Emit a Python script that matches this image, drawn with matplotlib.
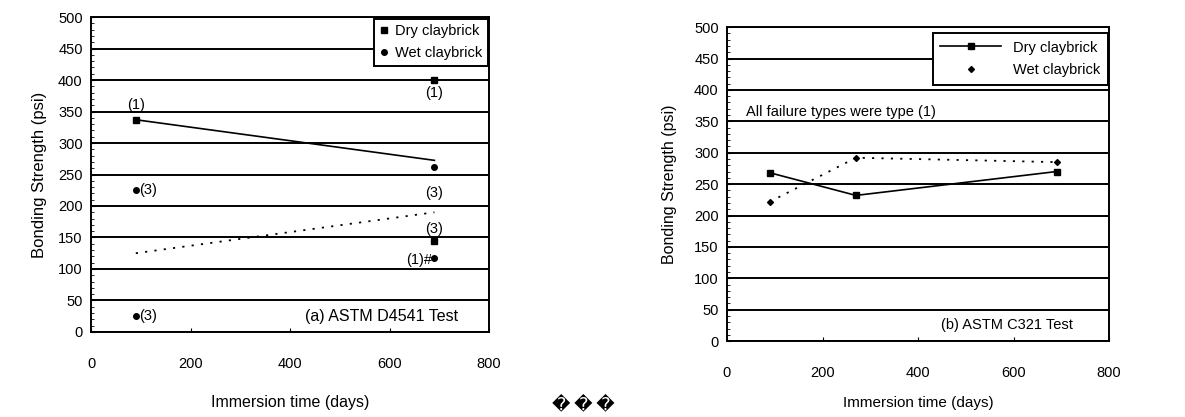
import matplotlib
matplotlib.use("Agg")
import matplotlib.pyplot as plt
import numpy as np
from matplotlib.ticker import MultipleLocator

plt.rcParams.update({
    "font.family": ["Liberation Sans", "DejaVu Sans"],
    "font.size": 10,
    "axes.linewidth": 1.4,
})

# ---- (a) ASTM D4541 test: individual specimens ----
a_dry_days = [90, 690, 690]
a_dry_psi = [337, 400, 145]
a_dry_fail = ["(1)", "(1)", "(3)"]
a_wet_days = [90, 90, 690, 690]
a_wet_psi = [225, 25, 262, 118]
a_wet_fail = ["(3)", "(3)", "(3)", "(1)#"]

# ---- (b) ASTM C321 test: means ----
b_days = [90, 270, 690]
b_dry_psi = [268, 232, 270]
b_wet_psi = [222, 292, 285]

SPARSE_DOT = (0, (1.2, 4))

fig = plt.figure(figsize=(11.85, 4.17), dpi=100)


def base_axes(rect, xlab_y, xlab_fs):
    ax = fig.add_axes(rect)
    ax.set_xlim(0, 800)
    ax.set_ylim(0, 500)
    ax.xaxis.set_major_locator(MultipleLocator(200))
    ax.yaxis.set_major_locator(MultipleLocator(50))
    ax.yaxis.set_minor_locator(MultipleLocator(10))
    ax.yaxis.grid(True, color="black", linewidth=1.4)
    ax.tick_params(axis="x", direction="in", length=3, pad=18, labelsize=10.5)
    ax.tick_params(axis="y", which="major", direction="in", length=3, pad=6, labelsize=10.5)
    ax.tick_params(axis="y", which="minor", direction="in", length=2)
    ax.set_xlabel("Immersion time (days)", fontsize=xlab_fs)
    ax.xaxis.set_label_coords(0.5, xlab_y)
    return ax


# ===== panel (a) =====
ax = base_axes([0.0768, 0.204, 0.336, 0.755], -0.2, 11.5)
ax.set_ylabel("Bonding Strength (psi)", fontsize=12, labelpad=8)
ax.plot(a_dry_days, a_dry_psi, "s", color="black", ms=5, label="Dry claybrick", zorder=5)
ax.plot(a_wet_days, a_wet_psi, "o", color="black", ms=4, label="Wet claybrick", zorder=5)

# linear trend lines through each group
xs = np.array([90, 690])
p = np.polyfit(a_dry_days, a_dry_psi, 1)
ax.plot(xs, np.polyval(p, xs), "-", color="black", lw=1.2)
p = np.polyfit(a_wet_days, a_wet_psi, 1)
ax.plot(xs, np.polyval(p, xs), linestyle=SPARSE_DOT, color="black", lw=1.3)

fs = 10.5
ax.text(90, a_dry_psi[0] + 12, a_dry_fail[0], ha="center", va="bottom", fontsize=fs)
ax.text(690, a_dry_psi[1] - 10, a_dry_fail[1], ha="center", va="top", fontsize=fs)
ax.text(690, a_dry_psi[2] + 8, a_dry_fail[2], ha="center", va="bottom", fontsize=fs)
ax.text(96, a_wet_psi[0], a_wet_fail[0], ha="left", va="center", fontsize=fs)
ax.text(96, a_wet_psi[1], a_wet_fail[1], ha="left", va="center", fontsize=fs)
ax.text(690, a_wet_psi[2] - 30, a_wet_fail[2], ha="center", va="top", fontsize=fs)
ax.text(686, a_wet_psi[3] - 3, a_wet_fail[3], ha="right", va="center", fontsize=fs)
ax.text(738, 25, "(a) ASTM D4541 Test", ha="right", va="center", fontsize=11.5)

leg = ax.legend(loc="upper right", bbox_to_anchor=(1.0, 1.0), fancybox=False,
                edgecolor="black", framealpha=1, fontsize=10.5, handlelength=0.6,
                handletextpad=0.4, borderpad=0.4, labelspacing=0.5,
                borderaxespad=0.1)
leg.get_frame().set_linewidth(1.4)

# ===== panel (b) =====
bx = base_axes([0.6135, 0.182, 0.3224, 0.753], -0.175, 11)
bx.set_ylabel("Bonding Strength (psi)", fontsize=11.5, labelpad=12)
bx.plot(b_days, b_dry_psi, "-s", color="black", lw=1.2, ms=5, label="Dry claybrick", zorder=5)
bx.plot(b_days, b_wet_psi, linestyle=SPARSE_DOT, color="black", lw=1.3, zorder=4)
bx.plot(b_days, b_wet_psi, "D", color="black", ms=3, label="Wet claybrick", zorder=5)
bx.text(40, 365, "All failure types were type (1)", ha="left", va="center", fontsize=10.5)
bx.text(725, 25, "(b) ASTM C321 Test", ha="right", va="center", fontsize=10.5)

leg = bx.legend(loc="upper right", bbox_to_anchor=(1.0, 0.985), fancybox=False,
                edgecolor="black", framealpha=1, fontsize=10.5, handlelength=4.2,
                handletextpad=0.8, borderpad=0.5, labelspacing=0.6,
                borderaxespad=0.1)
leg.get_frame().set_linewidth(1.4)

# stray replacement characters from the source document
fig.text(0.492, 0.03, "\ufffd\u2009\ufffd\u2009\ufffd", ha="center", va="center",
         fontsize=13, family="DejaVu Sans")

fig.savefig("out.png", dpi=100)
